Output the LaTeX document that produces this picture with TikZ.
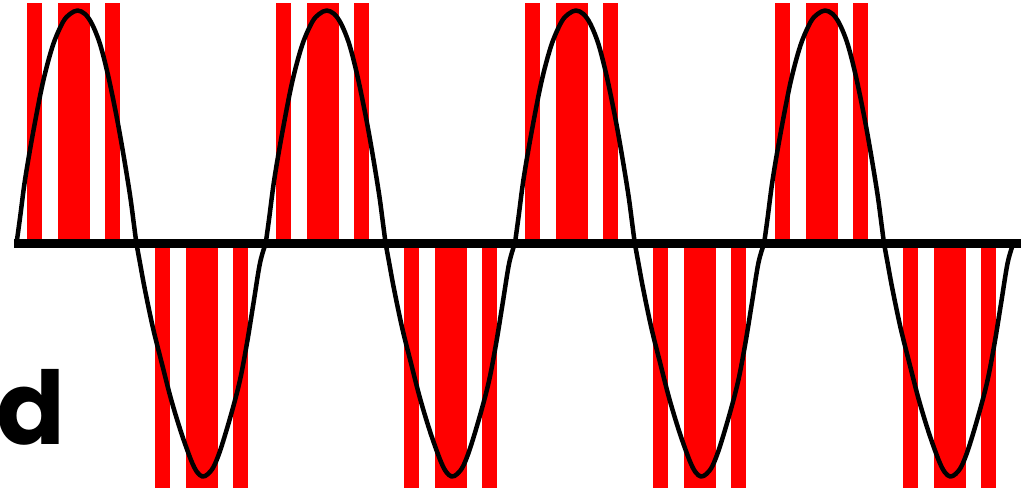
\documentclass[tikz,border=0pt]{standalone}
\usepackage{fontspec}
\newfontfamily\popfont{Poppins}
\definecolor{barred}{RGB}{255,0,0}
\begin{document}
\begin{tikzpicture}[x=1pt,y=-1pt,
  bar/.style={fill=barred,draw=none},
  wave/.style={draw=black,line width=4.5pt,line cap=round,line join=round},
  axisline/.style={draw=black,line width=9pt}]
\useasboundingbox (0,0) rectangle (1025,489);
% red bars
\foreach \k in {0,1,2,3}{
  \begin{scope}[shift={(\k*249.2,0)}]
    \fill[bar] (27,3) rectangle (42,244);
    \fill[bar] (58,3) rectangle (90,244);
    \fill[bar] (105,3) rectangle (120,244);
    \fill[bar] (155,244) rectangle (170,488);
    \fill[bar] (186,244) rectangle (218,488);
    \fill[bar] (233,244) rectangle (248,488);
  \end{scope}
}
% wave
\foreach \k in {0,1,2,3}{
  \begin{scope}[shift={(\k*249.2,0)}]
  \draw[wave] plot[smooth,tension=0.55] coordinates {
    (16.5,243.5) (20,218) (25,180) (33,133) (43,82) (53,45) (63,22) (70,14)
    (77.5,10.5) (85,14) (92,24) (100,44) (108,75) (116.5,116) (123.5,155)
    (130,195) (134,225) (136.5,243.5)
    (140,263) (145,290) (153,328) (162,364) (171,399) (181,432) (191,460)
    (197,472) (202.5,476.5) (208,474) (214,466) (221,448) (231.5,413)
    (240,380) (247,343) (253.5,303) (260,263) (265.7,243.5)};
  \end{scope}
}
% axis
\coordinate (axL) at (14,243.5);
\coordinate (axR) at (1021,243.5);
\draw[axisline] (axL) -- (axR);
% label
\node[anchor=base west,inner sep=0pt,font=\popfont\bfseries\fontsize{101.5}{101.5}\selectfont] (lbl) at (-3.5,444) {d};
\end{tikzpicture}
\end{document}
